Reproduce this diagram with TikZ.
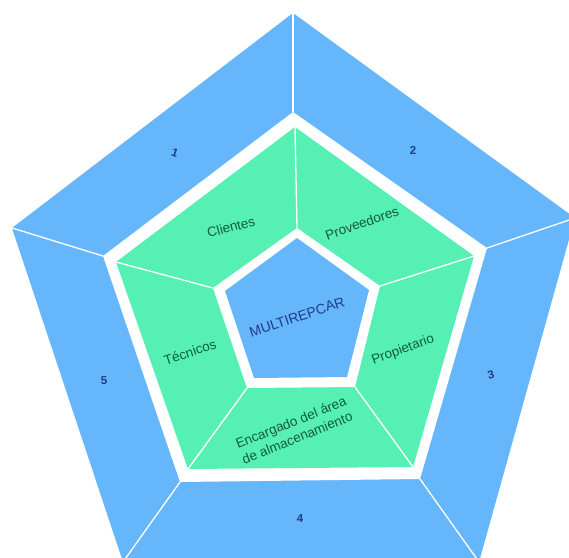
\documentclass[tikz,border=0pt]{standalone}
\usepackage{fontspec}
\setmainfont{Liberation Sans}
\definecolor{ringblue}{RGB}{102,182,252}
\definecolor{ringgreen}{RGB}{86,240,180}
\definecolor{txtgreen}{RGB}{18,92,62}
\definecolor{txtblue}{RGB}{34,58,140}
\tikzset{
  bluefill/.style={fill=ringblue, draw=none},
  greenfill/.style={fill=ringgreen, draw=none},
  gapfill/.style={fill=white, draw=none},
  divider/.style={draw=white, line width=1.3pt},
  greenlabel/.style={text=txtgreen, font=\fontsize{13.5}{16.5}\selectfont, align=center, inner sep=0pt},
  numlabel/.style={text=txtblue, font=\fontsize{11.5}{13}\selectfont\bfseries, inner sep=0pt},
  corelabel/.style={text=txtblue, font=\fontsize{14}{16}\selectfont, inner sep=0pt}
}
\begin{document}
\begin{tikzpicture}[x=1pt,y=-1pt]
\useasboundingbox (0,0) rectangle (569,557);
\clip (0,0) rectangle (569,557);
% outer pentagon
\coordinate (o1) at (293,13);
\coordinate (o2) at (575,218);
\coordinate (o3) at (479,562);
\coordinate (o4) at (123,562);
\coordinate (o5) at (12,228);
% inner edge of outer blue ring
\coordinate (w1) at (293,112);
\coordinate (w2) at (487,248);
\coordinate (w3) at (420,479);
\coordinate (w4) at (180,482);
\coordinate (w5) at (103,256);
% green outer
\coordinate (g1) at (295,127);
\coordinate (g2) at (474,256);
\coordinate (g3) at (413,467);
\coordinate (g4) at (188,469);
\coordinate (g5) at (116,262);
% green inner (white ring outer)
\coordinate (r1) at (297,228);
\coordinate (r2) at (380,286);
\coordinate (r3) at (355,387);
\coordinate (r4) at (247,388);
\coordinate (r5) at (213,288);
% core pentagon
\coordinate (c1) at (297,238);
\coordinate (c2) at (369,290);
\coordinate (c3) at (347,377);
\coordinate (c4) at (254,378);
\coordinate (c5) at (225,291);

\path[bluefill] (o1) -- (o2) -- (o3) -- (o4) -- (o5) -- cycle;
\path[gapfill] (w1) -- (w2) -- (w3) -- (w4) -- (w5) -- cycle;
\path[greenfill] (g1) -- (g2) -- (g3) -- (g4) -- (g5) -- cycle;
\path[gapfill] (r1) -- (r2) -- (r3) -- (r4) -- (r5) -- cycle;
\path[bluefill] (c1) -- (c2) -- (c3) -- (c4) -- (c5) -- cycle;

\foreach \i in {1,...,5} {
  \draw[divider] (o\i) -- (w\i);
  \draw[divider] (g\i) -- (r\i);
}

\node[numlabel, rotate=-20] (n1) at (175,153) {1};
\node[numlabel] (n2) at (413,150) {2};
\node[numlabel, rotate=15] (n3) at (491,375) {3};
\node[numlabel] (n4) at (300,519) {4};
\node[numlabel] (n5) at (104,381) {5};

\node[greenlabel, rotate=15] (cli) at (231,227) {Clientes};
\node[greenlabel, rotate=19] (pro) at (362,223) {Proveedores};
\node[greenlabel, rotate=18] (tec) at (190,352) {Técnicos};
\node[greenlabel, rotate=20] (prop) at (403,350) {Propietario};
\node[greenlabel, rotate=22] (enc) at (294,430) {Encargado del área\\de almacenamiento};
\node[corelabel, rotate=18.5] (core) at (297,317) {MULTIREPCAR};
\end{tikzpicture}
\end{document}
